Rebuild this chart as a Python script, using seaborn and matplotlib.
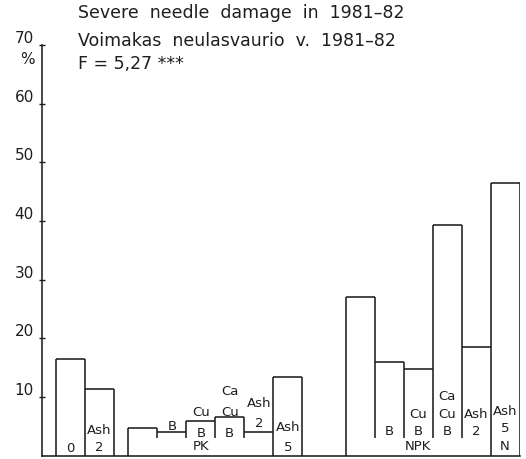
import matplotlib
matplotlib.use("Agg")
import matplotlib.pyplot as plt
import pandas as pd
import seaborn as sns

# Severe needle damage (%) in 1981-82 by fertilizer treatment
control_values = [16.4, 11.4]
pk_values = [4.7, 4.0, 5.8, 6.6, 4.0, 13.4]
npk_values = [27.0, 16.0, 14.8, 39.3, 18.5, 46.4]

control_labels = ["0", "Ash\n2"]
pk_labels = ["", "B", "Cu\nB", "Ca\nCu\nB", "Ash\n2", "Ash\n5"]
npk_labels = ["", "B", "Cu\nB", "Ca\nCu\nB", "Ash\n2", "Ash\n5\nN"]
group_names = ["", "PK", "NPK"]

y_ticks = [10, 20, 30, 40, 50, 60, 70]
title_lines = [
    "Severe  needle  damage  in  1981\u201382",
    "Voimakas  neulasvaurio  v.  1981\u201382",
    "F = 5,27 ***",
]

# ---- layout -------------------------------------------------------------
INK = "#1e1e1e"
LW = 1.15
gap_before = [0.0, 0.5, 1.5]          # empty space before each group (bar widths)
solid_left = [[True, True],
              [True, False, False, False, False, True],
              [True, False, False, False, False, True]]
label_base = [[1.3, 1.45],
              [0, 5.2, 4.0, 4.0, 5.6, 1.45],
              [0, 4.2, 4.2, 4.2, 4.2, 1.7]]
line_step = [3.0, 3.5, 3.0]
divider_floor = 3.0
group_label_y = 1.65

groups = [control_values, pk_values, npk_values]
group_labels = [control_labels, pk_labels, npk_labels]

rows = []
pos = 1.0
for g, vals in enumerate(groups):
    pos += gap_before[g]
    for i, v in enumerate(vals):
        rows.append(dict(pos=pos, pct=v, group=g, idx=i,
                         label=group_labels[g][i],
                         solid=solid_left[g][i],
                         base=label_base[g][i]))
        pos += 1.0
df = pd.DataFrame(rows)

sns.set_style("ticks")
plt.rcParams["font.family"] = ["DejaVu Sans"]

fig = plt.figure(figsize=(5.26, 4.6), dpi=100)
ax = fig.add_axes([41.5 / 526, 3.5 / 460, (519.5 - 41.5) / 526, (456.5 - 46) / 460])

# invisible bars give the geometry; outlines are drawn on top of them
sns.barplot(data=df, x="pos", y="pct", native_scale=True, width=1.0,
            color="white", edgecolor="none", linewidth=0, errorbar=None, ax=ax)

bars = sorted(ax.patches, key=lambda p: p.get_x())
for b, (_, row) in zip(bars, df.iterrows()):
    x0, x1, h = b.get_x(), b.get_x() + b.get_width(), b.get_height()
    ax.hlines(h, x0, x1, color=INK, lw=LW, zorder=3)
    g, i = row["group"], row["idx"]
    if i == 0:
        ax.vlines(x0, 0, h, color=INK, lw=LW, zorder=3)
    else:
        prev_h = bars[df.index[(df.group == g) & (df.idx == i - 1)][0]].get_height()
        top = max(prev_h, h)
        bottom = 0 if row["solid"] else divider_floor
        ax.vlines(x0, bottom, top, color=INK, lw=LW, zorder=3)
    if i == len(groups[g]) - 1:
        ax.vlines(x1, 0, h, color=INK, lw=LW, zorder=3)

    lines = row["label"].split("\n") if row["label"] else []
    for k, txt in enumerate(reversed(lines)):
        ax.text(row["pos"], row["base"] + k * line_step[g], txt, ha="center",
                va="center", fontsize=9.5, color=INK, zorder=4)

for g, name in enumerate(group_names):
    if name:
        p = df[(df.group == g) & (df.idx == 2)]["pos"].iloc[0]
        ax.text(p, group_label_y, name, ha="center", va="center",
                fontsize=9.5, color=INK, zorder=4)

ax.set_xlim(0, df["pos"].max() + 0.5)
ax.set_ylim(0, 70)
ax.set_yticks(y_ticks)
ax.set_yticklabels([str(t) for t in y_ticks])
for lab in ax.get_yticklabels():
    lab.set_va("bottom")
ax.tick_params(axis="y", direction="inout", length=5, width=1.0, pad=3,
               labelsize=11, colors=INK)
ax.tick_params(axis="x", bottom=False, labelbottom=False)
ax.set_xlabel("")
ax.set_ylabel("")
sns.despine(ax=ax, top=True, right=True)
for s in ("left", "bottom"):
    ax.spines[s].set_color(INK)
    ax.spines[s].set_linewidth(LW)

fig.text(27 / 526, 1 - 60 / 460, "%", ha="center", va="center",
         fontsize=11, color=INK)
for txt, yc in zip(title_lines, [13, 41, 64]):
    fig.text(78 / 526, 1 - yc / 460, txt, ha="left", va="center",
             fontsize=12.5, color=INK)

fig.savefig("out.png", dpi=100, facecolor="white")
